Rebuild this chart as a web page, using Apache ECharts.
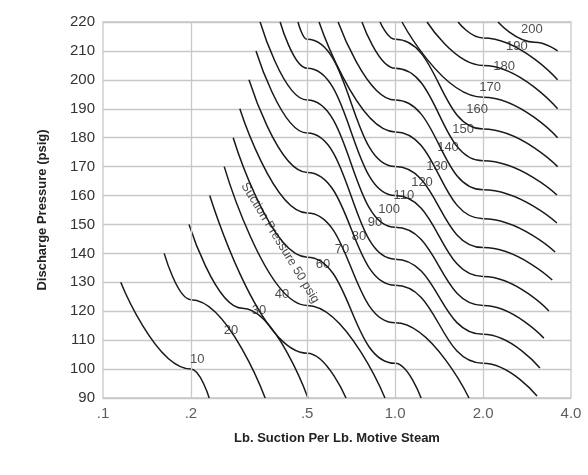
<!DOCTYPE html>
<html><head><meta charset="utf-8">
<script src="https://cdn.jsdelivr.net/npm/echarts@6/dist/echarts.min.js"></script>
<style>html,body{margin:0;padding:0;background:#fff}#c{width:588px;height:475px}</style>
</head><body><div id="c"></div>
<script>
const xTicks = [0.1, 0.2, 0.5, 1, 2, 4];
const xTickLabels = ['.1', '.2', '.5', '1.0', '2.0', '4.0'];
const xGrid = [0.2, 0.5, 1, 2];
const suction = [10,20,30,40,50,60,70,80,90,100,110,120,130,140,150,160,170,180,190,200];
const c10 = [[0.115,130],[0.2,100],[0.231,90]];
const c20 = [[0.162,140],[0.2,124],[0.359,90]];
const c30 = [[0.197,150],[0.3,121],[0.503,90]];
const c40 = [[0.232,160],[0.5,105.5],[0.679,90]];
const c50 = [[0.26,170],[0.5,122],[0.923,90]];
const c60 = [[0.279,180],[0.5,138.7],[1,102],[1.227,90]];
const c70 = [[0.294,190],[0.5,154],[1,116],[1.79,90]];
const c80 = [[0.316,200],[0.5,168],[1,129],[2,102],[3.06,90.7]];
const c90 = [[0.334,210],[0.5,181.6],[1,138],[2,112],[3.13,100.4]];
const c100 = [[0.345,220],[0.5,193],[1,149],[2,122],[3.23,110.7]];
const c110 = [[0.404,220],[0.5,204],[1,160],[2,132],[3.36,120.1]];
const c120 = [[0.465,220],[0.5,214],[1,170],[2,142],[3.45,130.8]];
const c130 = [[0.549,220],[1,182],[2,152],[3.53,140.5]];
const c140 = [[0.638,220],[1,193],[2,162],[3.58,150.5]];
const c150 = [[0.770,220],[1,204],[2,172],[3.58,160.2]];
const c160 = [[0.888,220],[1,214],[2,183],[3.6,170]];
const c170 = [[1.056,220],[2,194],[3.6,180]];
const c180 = [[1.286,220],[2,205],[3.6,190]];
const c190 = [[1.642,220],[2,214.5],[3.6,200]];
const c200 = [[2.25,220],[3,213],[3.6,210]];
const curves = [c10,c20,c30,c40,c50,c60,c70,c80,c90,c100,c110,c120,c130,c140,c150,c160,c170,c180,c190,c200];
const curveLabels = [
  ['10',0.21,103.5],['20',0.274,113.5],['30',0.342,120.4],['40',0.410,125.9],
  ['60',0.566,136.3],['70',0.658,141.2],['80',0.752,145.7],['90',0.853,150.8],
  ['100',0.953,155.3],['110',1.072,160.2],['120',1.236,164.7],['130',1.391,169.9],
  ['140',1.517,176.8],['150',1.708,183],['160',1.907,189.9],['170',2.113,197.5],
  ['180',2.36,204.8],['190',2.61,211.7],['200',2.94,217.6]
];
const label50 = ['Suction Pressure 50 psig', 0.404, 143.6];

const chart = echarts.init(document.getElementById('c'));
const series = curves.map((d,i)=>({
  type:'line', name:String(suction[i]), data:d, smooth:0.5, smoothMonotone:'x', symbol:'none',
  lineStyle:{color:'#1a1a1a', width:1.5}, silent:true, z:3
}));
series.push({
  type:'line', data:[], silent:true,
  markLine:{symbol:'none', silent:true, label:{show:false},
    lineStyle:{color:'#c8c8c8', type:'solid', width:1.3},
    data: xGrid.map(v=>({xAxis:v}))}
});
series.push({
  type:'scatter', symbolSize:0, clip:false, silent:true,
  data: xTicks.map((v,i)=>({value:[v,90], label:{formatter:xTickLabels[i]}})),
  label:{show:true, position:'bottom', distance:8, color:'#333', fontSize:15, fontFamily:'Liberation Sans, Arial'}
});
series.push({
  type:'scatter', symbolSize:0, silent:true, z:5,
  data: curveLabels.map(l=>({value:[l[1],l[2]], label:{formatter:l[0]}})),
  label:{show:true, position:'inside', color:'#222', fontSize:13, fontFamily:'Liberation Sans, Arial'}
});
series.push({
  type:'scatter', symbolSize:0, silent:true, z:5,
  data:[{value:[label50[1],label50[2]], label:{formatter:label50[0]}}],
  label:{show:true, position:'inside', rotate:-58.5, color:'#222', fontSize:12.5, fontFamily:'Liberation Sans, Arial'}
});

chart.setOption({
  animation:false,
  grid:{left:103, right:17, top:22, bottom:77, show:true, borderColor:'#c8c8c8', borderWidth:1.3},
  xAxis:{type:'log', logBase:10, min:0.1, max:4,
    axisLabel:{show:false}, axisTick:{show:false}, axisLine:{show:false}, splitLine:{show:false},
    name:'Lb. Suction Per Lb. Motive Steam', nameLocation:'middle', nameGap:34,
    nameTextStyle:{fontWeight:'bold', fontSize:13, color:'#222', fontFamily:'Liberation Sans, Arial'}},
  yAxis:{type:'value', min:90, max:220, interval:10,
    axisLabel:{color:'#333', fontSize:15, margin:8, fontFamily:'Liberation Sans, Arial'},
    axisTick:{show:false}, axisLine:{show:false},
    splitLine:{lineStyle:{color:'#c8c8c8', width:1.3}},
    name:'Discharge Pressure (psig)', nameLocation:'middle', nameGap:54,
    nameTextStyle:{fontWeight:'bold', fontSize:13, color:'#222', fontFamily:'Liberation Sans, Arial'}},
  series: series
});
</script></body></html>
